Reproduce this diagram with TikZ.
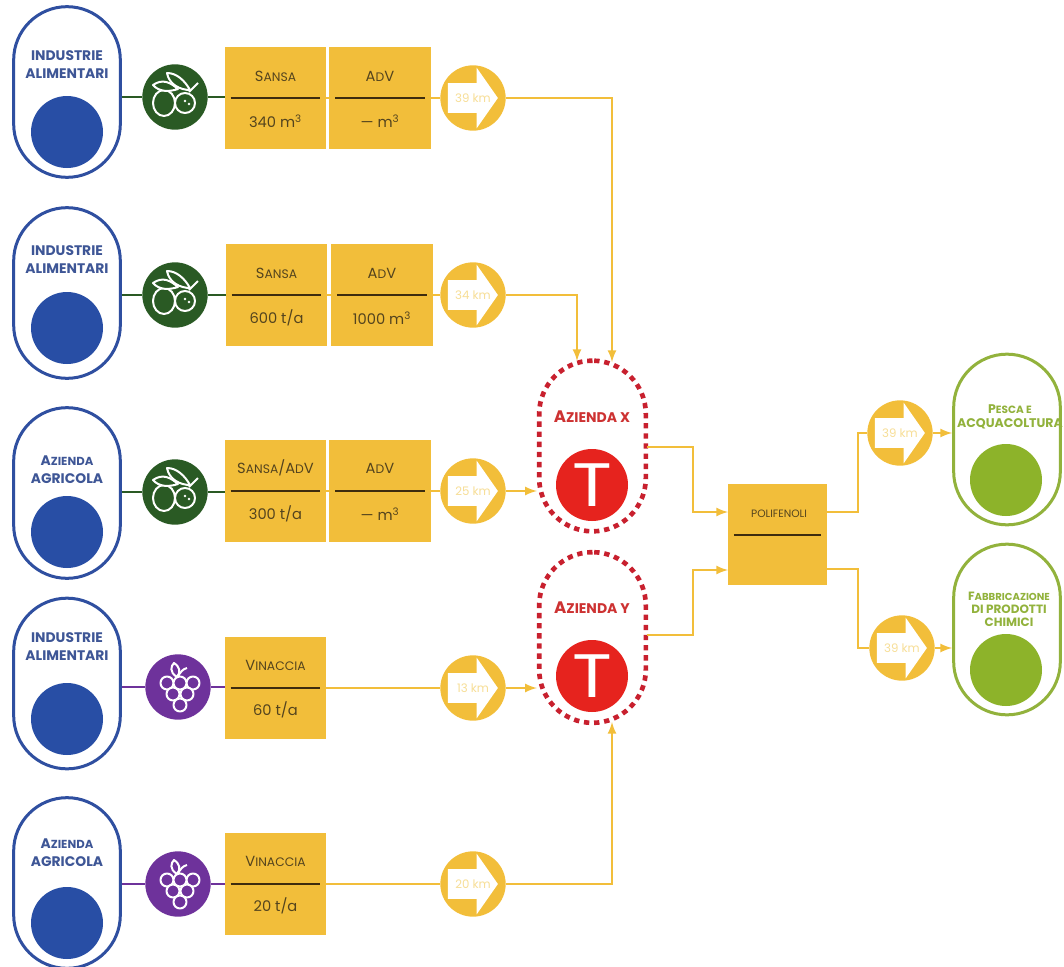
\documentclass[tikz,border=0pt]{standalone}
\usepackage{fontspec}
\setmainfont{Poppins}
\usetikzlibrary{calc}
\usetikzlibrary{arrows}
\usetikzlibrary{shapes.arrows}
\definecolor{sourceblue}{RGB}{47, 79, 160}
\definecolor{discblue}{RGB}{40, 78, 165}
\definecolor{labelblue}{RGB}{62, 86, 150}
\definecolor{amber}{RGB}{242, 190, 58}
\definecolor{palekm}{RGB}{247, 222, 150}
\definecolor{inktext}{RGB}{84, 68, 30}
\definecolor{rulebrown}{RGB}{62, 44, 14}
\definecolor{olivegreen}{RGB}{42, 90, 36}
\definecolor{grapepurple}{RGB}{110, 50, 155}
\definecolor{tred}{RGB}{230, 35, 30}
\definecolor{dashred}{RGB}{200, 32, 46}
\definecolor{labelred}{RGB}{205, 50, 50}
\definecolor{usergreen}{RGB}{146, 178, 60}
\definecolor{discgreen}{RGB}{141, 179, 42}
\newcommand{\lowcap}[2]{#1\scalebox{0.84}{#2}}
\tikzset{
    pill/.style={draw, line width=2.25pt, fill=white, rounded corners=40pt, minimum width=80pt, minimum height=128pt, inner sep=0pt},
    sourcepill/.style={pill, draw=sourceblue},
    farmpill/.style={pill, draw=dashred, line width=3.5pt, dash pattern=on 4pt off 3.6pt},
    userpill/.style={pill, draw=usergreen},
    disc/.style={circle, minimum size=54pt, inner sep=0pt},
    sourcetext/.style={font=\fontsize{10.4}{13.5}\selectfont\bfseries, text=labelblue, align=center, inner sep=0pt},
    farmtext/.style={font=\fontsize{12.5}{14}\selectfont\bfseries, text=labelred, inner sep=0pt},
    usertext/.style={font=\fontsize{9.4}{10.6}\selectfont\bfseries, text=usergreen, align=center, inner sep=0pt},
    tcircle/.style={circle, fill=tred, minimum size=54pt, inner sep=0pt, text=white, font=\fontsize{46}{46}\selectfont},
    iconcircle/.style={circle, minimum size=49pt, inner sep=0pt},
    matbox/.style={fill=amber, minimum width=76pt, minimum height=76pt, inner sep=0pt},
    mattext/.style={font=\fontsize{11}{12}\selectfont, text=inktext, inner sep=0pt},
    matrule/.style={rulebrown, line width=1.5pt},
    kmcircle/.style={circle, fill=amber, minimum size=49pt, inner sep=0pt},
    kmarrow/.style={single arrow, fill=white, minimum height=37.5pt, minimum width=45pt, single arrow head extend=11.5pt, single arrow tip angle=110, inner xsep=0pt, inner ysep=11pt, xshift=-4pt},
    kmtext/.style={text=palekm, font=\fontsize{8.8}{10}\selectfont, inner sep=0pt},
    flow/.style={amber, line width=2pt},
    flowtip/.style={flow, -latex},
    olivelink/.style={olivegreen, line width=2pt},
    grapelink/.style={grapepurple, line width=2pt},
    iconline/.style={white, line width=1.5pt, line join=round},
    olive/.pic={
        \draw[iconline] (-0.11,0.06) ellipse (0.11 and 0.13);
        \draw[iconline, fill=olivegreen] (0.10,0.06) circle (0.10);
        \fill[white] (0.10,0.04) circle (0.014);
        \fill[white] (0.14,0.07) circle (0.014);
        \draw[iconline, fill=olivegreen] (-0.22,-0.12) .. controls (-0.12,-0.19) and (-0.04,-0.14) .. (0.03,-0.08) .. controls (-0.06,-0.05) and (-0.16,-0.05) .. cycle;
        \draw[iconline, fill=olivegreen] (-0.08,-0.24) .. controls (0.02,-0.24) and (0.10,-0.16) .. (0.15,-0.07) .. controls (0.06,-0.07) and (-0.06,-0.12) .. cycle;
        \draw[iconline] (0.14,-0.05) -- (0.23,-0.14);
    },
    grape/.pic={
        \draw[iconline] (-0.01,-0.10) .. controls (-0.09,-0.15) and (-0.07,-0.21) .. (-0.04,-0.24) .. controls (0.02,-0.20) and (0.03,-0.15) .. (-0.01,-0.10);
        \draw[iconline] (0.00,-0.10) .. controls (0.02,-0.15) and (0.05,-0.18) .. (0.09,-0.19);
        \draw[iconline, fill=grapepurple] (-0.11,-0.04) circle (0.065);
        \draw[iconline, fill=grapepurple] ( 0.15,-0.04) circle (0.065);
        \draw[iconline, fill=grapepurple] (-0.05, 0.07) circle (0.065);
        \draw[iconline, fill=grapepurple] ( 0.09, 0.07) circle (0.065);
        \draw[iconline, fill=grapepurple] ( 0.02, 0.18) circle (0.065);
        \draw[iconline, fill=grapepurple] ( 0.02,-0.04) circle (0.065);
    },
}

\begin{document}
\begin{tikzpicture}[x=75pt, y=-75pt]
    \useasboundingbox (0.00, 0.00) rectangle (10.64, 9.67);
    % Sources
    \node[sourcepill] (sourceA) at (0.67, 0.92) {};
    \node[sourcepill] (sourceB) at (0.67, 2.93) {};
    \node[sourcepill] (sourceC) at (0.67, 4.93) {};
    \node[sourcepill] (sourceD) at (0.67, 6.835) {};
    \node[sourcepill] (sourceE) at (0.67, 8.83) {};
    \node[disc, fill=discblue] (discA) at (0.67, 1.32) {};
    \node[disc, fill=discblue] (discB) at (0.67, 3.28) {};
    \node[disc, fill=discblue] (discC) at (0.67, 5.32) {};
    \node[disc, fill=discblue] (discD) at (0.67, 7.19) {};
    \node[disc, fill=discblue] (discE) at (0.67, 9.23) {};
    \node[sourcetext] (textA) at (0.67, 0.645) {INDUSTRIE\\ALIMENTARI};
    \node[sourcetext] (textB) at (0.67, 2.60) {INDUSTRIE\\ALIMENTARI};
    \node[sourcetext] (textC) at (0.67, 4.70) {\lowcap{A}{ZIENDA}\\AGRICOLA};
    \node[sourcetext] (textD) at (0.67, 6.47) {INDUSTRIE\\ALIMENTARI};
    \node[sourcetext] (textE) at (0.67, 8.525) {\lowcap{A}{ZIENDA}\\AGRICOLA};
    % Feedstock icons
    \node[iconcircle, fill=olivegreen]  (iconA) at (1.75, 0.97) {};
    \node[iconcircle, fill=olivegreen]  (iconB) at (1.75, 2.95) {};
    \node[iconcircle, fill=olivegreen]  (iconC) at (1.75, 4.92) {};
    \node[iconcircle, fill=grapepurple] (iconD) at (1.78, 6.87) {};
    \node[iconcircle, fill=grapepurple] (iconE) at (1.78, 8.84) {};
    \pic at (iconA) {olive};
    \pic at (iconB) {olive};
    \pic at (iconC) {olive};
    \pic at (iconD) {grape};
    \pic at (iconE) {grape};
    % Material boxes
    \node[matbox] (sansaA) at (2.755, 0.98) {};
    \node[matbox] (advA)   at (3.80,  0.98) {};
    \node[matbox] (sansaB) at (2.765, 2.95) {};
    \node[matbox] (advB)   at (3.82,  2.95) {};
    \node[matbox] (sansaC) at (2.755, 4.91) {};
    \node[matbox] (advC)   at (3.80,  4.91) {};
    \node[matbox] (vinD)   at (2.755, 6.88) {};
    \node[matbox] (vinE)   at (2.755, 8.84) {};
    \node[mattext] (titleA) at (2.755, 0.76) {\lowcap{S}{ANSA}};
    \node[mattext] (valueA) at (2.755, 1.21) {340 m\textsuperscript{3}};
    \node[mattext] (titleB) at (3.80,  0.76) {A\scalebox{0.84}{D}V};
    \node[mattext] (valueB) at (3.80,  1.21) {--- m\textsuperscript{3}};
    \node[mattext] (titleC) at (2.765, 2.73) {\lowcap{S}{ANSA}};
    \node[mattext] (valueC) at (2.765, 3.18) {600 t/a};
    \node[mattext] (titleD) at (3.82,  2.73) {A\scalebox{0.84}{D}V};
    \node[mattext] (valueD) at (3.82,  3.18) {1000 m\textsuperscript{3}};
    \node[mattext] (titleE) at (2.755, 4.68) {\lowcap{S}{ANSA}/A\scalebox{0.84}{D}V};
    \node[mattext] (valueE) at (2.755, 5.14) {300 t/a};
    \node[mattext] (titleF) at (3.80,  4.68) {A\scalebox{0.84}{D}V};
    \node[mattext] (valueF) at (3.80,  5.14) {--- m\textsuperscript{3}};
    \node[mattext] (titleG) at (2.755, 6.65) {\lowcap{V}{INACCIA}};
    \node[mattext] (valueG) at (2.755, 7.10) {60 t/a};
    \node[mattext] (titleH) at (2.755, 8.61) {\lowcap{V}{INACCIA}};
    \node[mattext] (valueH) at (2.755, 9.06) {20 t/a};
    \draw[matrule] ([xshift=4.5pt]sansaA.west) -- ([xshift=-4.5pt]sansaA.east);
    \draw[matrule] ([xshift=4.5pt]advA.west)   -- ([xshift=-4.5pt]advA.east);
    \draw[matrule] ([xshift=4.5pt]sansaB.west) -- ([xshift=-4.5pt]sansaB.east);
    \draw[matrule] ([xshift=4.5pt]advB.west)   -- ([xshift=-4.5pt]advB.east);
    \draw[matrule] ([xshift=4.5pt]sansaC.west) -- ([xshift=-4.5pt]sansaC.east);
    \draw[matrule] ([xshift=4.5pt]advC.west)   -- ([xshift=-4.5pt]advC.east);
    \draw[matrule] ([xshift=4.5pt]vinD.west)   -- ([xshift=-4.5pt]vinD.east);
    \draw[matrule] ([xshift=4.5pt]vinE.west)   -- ([xshift=-4.5pt]vinE.east);
    % Distances
    \node[kmcircle] (kmA) at (4.73, 0.98) {};
    \node[kmcircle] (kmB) at (4.73, 2.95) {};
    \node[kmcircle] (kmC) at (4.73, 4.91) {};
    \node[kmcircle] (kmD) at (4.73, 6.88) {};
    \node[kmcircle] (kmE) at (4.73, 8.84) {};
    \node[kmcircle] (kmF) at (9.00, 4.33) {};
    \node[kmcircle] (kmG) at (9.02, 6.48) {};
    \node[kmarrow] (arrowA) at (kmA) {};
    \node[kmarrow] (arrowB) at (kmB) {};
    \node[kmarrow] (arrowC) at (kmC) {};
    \node[kmarrow] (arrowD) at (kmD) {};
    \node[kmarrow] (arrowE) at (kmE) {};
    \node[kmarrow] (arrowF) at (kmF) {};
    \node[kmarrow] (arrowG) at (kmG) {};
    \node[kmtext] (distA) at (kmA) {39 km};
    \node[kmtext] (distB) at (kmB) {34 km};
    \node[kmtext] (distC) at (kmC) {25 km};
    \node[kmtext] (distD) at (kmD) {13 km};
    \node[kmtext] (distE) at (kmE) {20 km};
    \node[kmtext] (distF) at (kmF) {39 km};
    \node[kmtext] (distG) at (kmG) {39 km};
    % Farms
    \node[farmpill] (farmX) at (5.925, 4.46) {};
    \node[farmpill] (farmY) at (5.925, 6.375) {};
    \node[farmtext] (farmlabelX) at (5.92, 4.17) {\lowcap{A}{ZIENDA X}};
    \node[farmtext] (farmlabelY) at (5.92, 6.08) {\lowcap{A}{ZIENDA Y}};
    \node[tcircle] (tX) at (5.92, 4.85) {\scalebox{1.2}[1]{T}};
    \node[tcircle] (tY) at (5.92, 6.76) {\scalebox{1.2}[1]{T}};
    \coordinate (inXa) at (5.77, 3.61);
    \coordinate (inXb) at (6.12, 3.62);
    \coordinate (inYa) at (6.12, 7.22);
    % Product
    \node[fill=amber, minimum width=74pt, minimum height=76pt, inner sep=0pt] (poly) at (7.775, 5.345) {};
    \node[mattext, font=\fontsize{8}{9}\selectfont] (polytext) at (7.79, 5.14) {POLIFENOLI};
    \draw[matrule] ([xshift=4.5pt]poly.west) -- ([xshift=-4.5pt]poly.east);
    \coordinate (inPa)  at (7.28, 5.12);
    \coordinate (inPb)  at (7.28, 5.70);
    \coordinate (outPa) at (8.27, 5.12);
    \coordinate (outPb) at (8.27, 5.69);
    \coordinate (outXc) at (6.47, 4.47);
    \coordinate (outYc) at (6.47, 6.35);
    % Users
    \node[userpill] (userA) at (10.07, 4.395) {};
    \node[userpill] (userB) at (10.07, 6.295) {};
    \node[disc, fill=discgreen] (discF) at (10.06, 4.80) {};
    \node[disc, fill=discgreen] (discG) at (10.06, 6.70) {};
    \node[usertext] (usertextA) at (10.10, 4.17) {\lowcap{P}{ESCA E}\\ACQUACOLTURA};
    \node[usertext, font=\fontsize{9}{9.8}\selectfont\bfseries] (usertextB) at (10.09, 6.09) {\lowcap{F}{ABBRICAZIONE}\\DI PRODOTTI\\CHIMICI};
    % Connectors
    \draw[olivelink] (sourceA.east |- iconA.west) -- (iconA.west);
    \draw[olivelink] (sourceB.east |- iconB.west) -- (iconB.west);
    \draw[olivelink] (sourceC.east |- iconC.west) -- (iconC.west);
    \draw[grapelink] (sourceD.east |- iconD.west) -- (iconD.west);
    \draw[grapelink] (sourceE.east |- iconE.west) -- (iconE.west);
    \draw[olivelink] (iconA.east) -- (sansaA.west |- iconA.east);
    \draw[olivelink] (iconB.east) -- (sansaB.west |- iconB.east);
    \draw[olivelink] (iconC.east) -- (sansaC.west |- iconC.east);
    \draw[grapelink] (iconD.east) -- (vinD.west |- iconD.east);
    \draw[grapelink] (iconE.east) -- (vinE.west |- iconE.east);
    \draw[flow] (sansaA.east) -- (advA.west);
    \draw[flow] (sansaB.east) -- (advB.west);
    \draw[flow] (sansaC.east) -- (advC.west);
    \draw[flow] (advA.east) -- (kmA.west);
    \draw[flow] (advB.east) -- (kmB.west);
    \draw[flow] (advC.east) -- (kmC.west);
    \draw[flow] (vinD.east) -- (kmD.west);
    \draw[flow] (vinE.east) -- (kmE.west);
    \draw[flowtip] (kmA.east) -| (inXb);
    \draw[flowtip] (kmB.east) -| (inXa);
    \draw[flowtip] (kmC.east) -- (farmX.west |- kmC.east);
    \draw[flowtip] (kmD.east) -- (farmY.west |- kmD.east);
    \draw[flowtip] (kmE.east) -| (inYa);
    \draw[flowtip] (outXc) -- ++(0.46, 0) |- (inPa);
    \draw[flowtip] (outYc) -- ++(0.46, 0) |- (inPb);
    \draw[flow] (outPa) -- ++(0.31, 0) |- (kmF.west);
    \draw[flow] (outPb) -- ++(0.31, 0) |- (kmG.west);
    \draw[flowtip] (kmF.east) -- (userA.west |- kmF.east);
    \draw[flowtip] (kmG.east) -- (userB.west |- kmG.east);
\end{tikzpicture}
\end{document}
